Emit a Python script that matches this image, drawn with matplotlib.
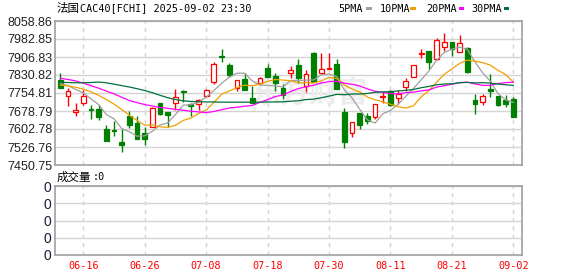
import matplotlib
matplotlib.use("Agg")
import matplotlib.pyplot as plt
from matplotlib.patches import Rectangle

# ---------------- data ----------------
dates = ["06-11","06-12","06-13","06-16","06-17","06-18","06-19","06-20","06-23","06-24",
         "06-25","06-26","06-27","06-30","07-01","07-02","07-03","07-04","07-07","07-08",
         "07-09","07-10","07-11","07-14","07-15","07-16","07-17","07-18","07-21","07-22",
         "07-23","07-24","07-25","07-28","07-29","07-30","07-31","08-01","08-04","08-05",
         "08-06","08-07","08-08","08-11","08-12","08-13","08-14","08-15","08-18","08-19",
         "08-20","08-21","08-22","08-25","08-26","08-27","08-28","08-29","09-01","09-02"]

opens = [7809.7, 7743.6, 7673.2, 7711.2, 7687.2, 7687.2, 7602.8, 7597.2, 7547.9, 7656.3,
         7628.1, 7585.9, 7612.6, 7712.6, 7673.2, 7714.0, 7763.3, 7707.0, 7707.0, 7743.6,
         7799.8, 7909.6, 7871.6, 7777.3, 7815.3, 7732.9, 7795.6, 7858.9, 7825.2, 7776.0,
         7840.7, 7873.0, 7784.4, 7922.3, 7837.9, 7857.6, 7875.9, 7674.6, 7584.5, 7669.0,
         7656.3, 7652.1, 7736.5, 7763.3, 7732.3, 7778.7, 7823.8, 7920.9, 7930.8, 7897.0,
         7950.5, 7968.8, 7926.5, 7943.4, 7725.3, 7718.2, 7771.7, 7742.2, 7725.3, 7729.5]
highs = [7840.7, 7774.5, 7711.2, 7767.5, 7704.1, 7705.5, 7619.7, 7636.6, 7601.4, 7680.2,
         7656.3, 7612.6, 7694.3, 7712.6, 7673.2, 7771.7, 7766.1, 7712.6, 7729.5, 7770.3,
         7887.1, 7942.0, 7881.5, 7808.3, 7837.9, 7782.8, 7821.0, 7875.9, 7839.3, 7791.4,
         7870.2, 7897.0, 7851.9, 7929.4, 7925.1, 7925.1, 7897.0, 7691.5, 7630.9, 7669.0,
         7669.0, 7707.0, 7760.4, 7767.5, 7767.5, 7816.7, 7871.6, 7942.0, 7930.8, 7985.7,
         8006.8, 7968.8, 7999.7, 7950.5, 7750.6, 7750.6, 7835.1, 7742.2, 7746.4, 7739.3]
lows = [7777.3, 7701.3, 7657.7, 7702.7, 7645.0, 7642.2, 7553.5, 7574.6, 7504.3, 7607.0,
        7559.2, 7533.8, 7609.8, 7661.9, 7612.6, 7681.6, 7716.8, 7659.1, 7683.0, 7737.9,
        7794.2, 7885.7, 7821.0, 7764.7, 7768.9, 7714.4, 7792.8, 7823.8, 7761.9, 7728.1,
        7819.6, 7798.4, 7760.4, 7801.3, 7837.9, 7857.6, 7773.1, 7524.0, 7570.4, 7604.2,
        7625.3, 7643.6, 7714.0, 7700.0, 7709.8, 7763.3, 7821.0, 7901.2, 7856.2, 7894.2,
        7932.2, 7912.5, 7926.5, 7837.9, 7667.6, 7705.5, 7736.5, 7701.3, 7697.1, 7652.1]
closes = [7777.3, 7763.3, 7683.0, 7742.2, 7684.4, 7654.9, 7553.5, 7592.9, 7536.6, 7618.3,
          7560.6, 7560.6, 7691.5, 7667.6, 7663.3, 7736.5, 7759.1, 7698.5, 7723.9, 7767.5,
          7878.7, 7906.8, 7830.8, 7808.3, 7768.9, 7714.4, 7819.6, 7823.8, 7798.4, 7744.9,
          7850.5, 7819.6, 7833.6, 7801.3, 7854.8, 7861.8, 7773.1, 7546.5, 7630.9, 7618.3,
          7636.6, 7707.0, 7740.7, 7702.7, 7750.6, 7804.1, 7871.6, 7923.7, 7887.1, 7977.2,
          7970.2, 7942.0, 7967.4, 7842.1, 7709.8, 7740.7, 7764.7, 7705.5, 7709.8, 7654.9]

ma5 = [7795, 7786, 7770, 7755, 7730.0, 7705.6, 7663.6, 7645.6, 7604.5, 7591.2,
       7572.4, 7573.8, 7593.5, 7619.7, 7628.7, 7663.9, 7703.6, 7705.0, 7716.3, 7737.1,
       7765.5, 7795.1, 7821.5, 7838.4, 7838.7, 7805.8, 7788.4, 7787.0, 7785.0, 7780.2,
       7807.4, 7807.4, 7809.4, 7810.0, 7832.0, 7834.2, 7824.9, 7767.5, 7733.4, 7686.1,
       7641.1, 7627.9, 7666.7, 7681.1, 7707.5, 7741.0, 7773.9, 7810.5, 7847.4, 7892.7,
       7926.0, 7940.0, 7948.8, 7939.8, 7886.3, 7840.4, 7804.9, 7752.6, 7726.1, 7715.1]
ma10 = [7788, 7785, 7779, 7771, 7760, 7745, 7727, 7708, 7685, 7660.6,
        7639.0, 7618.7, 7619.6, 7612.1, 7610.0, 7618.2, 7638.7, 7649.3, 7668.0, 7682.9,
        7714.7, 7749.4, 7763.3, 7777.4, 7787.9, 7785.7, 7791.8, 7804.3, 7811.7, 7809.5,
        7806.6, 7797.9, 7798.2, 7797.5, 7806.1, 7820.8, 7816.2, 7788.5, 7771.7, 7759.1,
        7737.7, 7726.4, 7717.1, 7707.3, 7696.8, 7691.1, 7700.9, 7738.6, 7764.3, 7800.1,
        7833.5, 7857.0, 7879.7, 7893.6, 7889.5, 7883.2, 7872.5, 7850.7, 7832.9, 7800.7]
ma20 = [7817, 7812, 7806, 7796, 7786, 7775, 7763, 7751, 7737, 7723,
        7714, 7706, 7700, 7694, 7690, 7686, 7682, 7678, 7675, 7671.8,
        7676.9, 7684.1, 7691.5, 7694.8, 7699.0, 7702.0, 7715.3, 7726.8, 7739.9, 7746.2,
        7760.7, 7773.7, 7780.8, 7787.5, 7797.0, 7803.3, 7804.0, 7796.4, 7791.7, 7784.3,
        7772.2, 7762.2, 7757.7, 7752.4, 7751.5, 7756.0, 7758.6, 7763.6, 7768.0, 7779.6,
        7785.6, 7791.7, 7798.4, 7800.5, 7793.2, 7787.2, 7786.7, 7794.7, 7798.6, 7800.4]
ma30 = [7800, 7799, 7798, 7798, 7799, 7801, 7798, 7792, 7786, 7780,
        7773, 7765, 7756, 7745, 7735, 7727, 7722, 7719, 7718, 7717,
        7717, 7716, 7716, 7716, 7716, 7716, 7716, 7717, 7717, 7717.7,
        7720.1, 7722.0, 7727.0, 7729.0, 7734.7, 7741.6, 7748.9, 7747.4, 7750.5, 7750.5,
        7753.0, 7757.9, 7759.5, 7760.7, 7763.6, 7765.9, 7769.6, 7777.1, 7782.6, 7789.6,
        7792.6, 7793.8, 7798.3, 7799.5, 7797.5, 7798.4, 7796.5, 7792.6, 7789.6, 7786.6]

price_ticks = [7450.75, 7526.76, 7602.78, 7678.79, 7754.81, 7830.82, 7906.83, 7982.85, 8058.86]
date_ticks = ["06-16", "06-26", "07-08", "07-18", "07-30", "08-11", "08-21", "09-02"]
ma_names = ["5PMA", "10PMA", "20PMA", "30PMA"]
volume_total = 0

# ---------------- style ----------------
W, H = 578, 276
UP, DOWN = "#ff0000", "#008000"
MA_COLORS = ["#a0a0a0", "#f0a000", "#ff00ff", "#00703c"]
GRID = "#d4d4d4"
SPINE = "#a0a0a0"
TXT = "#222222"
MONO = "DejaVu Sans Mono"
CJK = ["Noto Sans CJK SC", "DejaVu Sans"]

fig = plt.figure(figsize=(W / 100, H / 100), dpi=100)
fig.patch.set_facecolor("white")

def fx(px):
    return px / W

def fy(py):
    return 1 - py / H

L, R = 55.3, 522.3
ax = fig.add_axes([fx(L), fy(165), fx(R - L), (165 - 21) / H])
axv = fig.add_axes([fx(L), fy(255), fx(R - L), (255 - 186) / H])

idx = list(range(len(dates)))
tick_pos = [dates.index(d) for d in date_ticks]

for a in (ax, axv):
    a.set_xlim(-0.65, len(dates) - 1 + 1.17)
    for s in a.spines.values():
        s.set_color(SPINE)
        s.set_linewidth(1.2)
    a.set_xticks(tick_pos)
    a.grid(True, axis="x", color=GRID, linestyle=(0, (3, 3)), linewidth=1.0)
    a.grid(True, axis="y", color=GRID, linestyle="-", linewidth=1.0)
    a.set_axisbelow(True)
    a.tick_params(length=0)

# price panel
ax.set_ylim(price_ticks[0], price_ticks[-1])
ax.set_yticks(price_ticks)
ax.set_yticklabels([f"{v:.2f}" for v in price_ticks], fontfamily="Liberation Sans",
                   fontsize=9, color=TXT)
ax.tick_params(axis="y", pad=2)
ax.set_xticklabels([])

# watermark
ax.text(0.545, 0.50, "东方财富", transform=ax.transAxes, fontfamily=CJK, fontsize=21,
        fontweight="bold", color="#ececec", ha="center", va="center", zorder=0.6)

for i in idx:
    o, h, l, c = opens[i], highs[i], lows[i], closes[i]
    up = c >= o
    col = UP if up else DOWN
    ax.vlines(i, l, h, color=col, linewidth=1.0, zorder=3)
    bottom = min(o, c)
    height = max(abs(c - o), 1.5)
    ax.bar(i, height, bottom=bottom, width=0.62,
           facecolor="white" if up else col, edgecolor=col, linewidth=0.9, zorder=4)

for series, colr in zip([ma5, ma10, ma20, ma30], MA_COLORS):
    ax.plot(idx, series, color=colr, linewidth=0.9, zorder=5)

# volume panel
axv.set_ylim(0, 4)
axv.set_yticks([0, 1, 2, 3, 4])
axv.set_yticklabels(["0"] * 5, fontfamily="Liberation Sans", fontsize=10, color="#1a1a3a")
axv.tick_params(axis="y", pad=3)
axv.set_xticklabels(date_ticks, fontfamily=MONO, fontsize=7.3, color="#ff0000")
axv.tick_params(axis="x", pad=4)

# title
fig.text(fx(56.5), fy(8.5), "法国", fontfamily=CJK, fontsize=8.3, color="black",
         ha="left", va="center")
fig.text(fx(79.5), fy(8.5), "CAC40[FCHI] 2025-09-02 23:30", fontfamily=MONO,
         fontsize=7.3, color="black", ha="left", va="center")

# legend
leg_x = [338.3, 380.0, 426.0, 471.7]
mark_x = [366.0, 410.5, 458.5, 503.5]
for name, tx, mx, colr in zip(ma_names, leg_x, mark_x, MA_COLORS):
    fig.text(fx(tx), fy(8.7), name, fontfamily=MONO, fontsize=7.3, color="black",
             ha="left", va="center")
    fig.patches.append(Rectangle((fx(mx), fy(10.2)), fx(5.5), 3 / H,
                                 transform=fig.transFigure, facecolor=colr,
                                 edgecolor="none"))

# volume caption
fig.text(fx(57), fy(177.5), "成交量", fontfamily=CJK, fontsize=8.3, color="black",
         ha="left", va="center")
fig.text(fx(92.5), fy(177.5), f":{volume_total}", fontfamily=MONO, fontsize=7.3,
         color="black", ha="left", va="center")

fig.savefig("out.png", dpi=100, facecolor="white")
